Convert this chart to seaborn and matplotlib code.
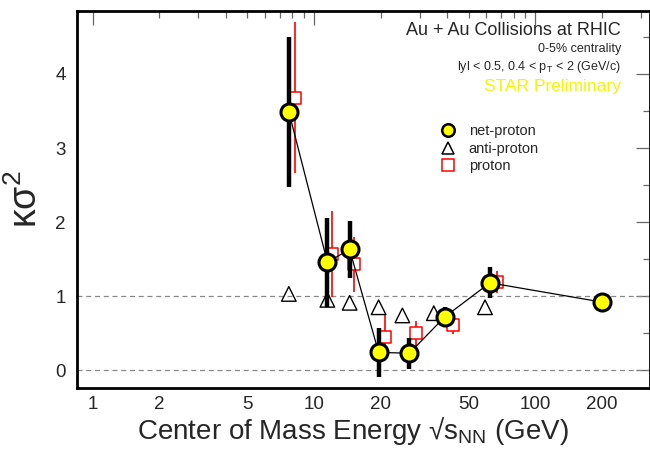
import matplotlib
matplotlib.use("Agg")
import matplotlib.pyplot as plt
from matplotlib.lines import Line2D
from matplotlib.ticker import FixedLocator, NullFormatter, MultipleLocator
import seaborn as sns

# collision energies (GeV) and kappa*sigma^2 values
energy = [7.7, 11.5, 14.5, 19.6, 27, 39, 62.4, 200]
net_kurt = [3.49, 1.46, 1.63, 0.24, 0.23, 0.72, 1.18, 0.92]
net_err = [1.01, 0.60, 0.39, 0.33, 0.21, 0.14, 0.21, 0.03]

# anti-proton / proton points are drawn slightly shifted in energy
anti_energy = [7.7, 11.5, 14.5, 19.6, 25.1, 34.8, 59.3]
anti_kurt = [1.03, 0.95, 0.91, 0.85, 0.74, 0.77, 0.85]

proton_energy = [8.2, 12.1, 15.1, 20.9, 29.0, 42.4, 67.0]
proton_kurt = [3.68, 1.57, 1.43, 0.45, 0.50, 0.61, 1.19]
proton_err = [1.02, 0.58, 0.37, 0.31, 0.17, 0.12, 0.15]

xtick_vals = [1, 2, 5, 10, 20, 50, 100, 200]
xtick_labels = ["1", "2", "5", "10", "20", "50", "100", "200"]

sns.set_style("white")
plt.rcParams['font.family'] = ['Liberation Sans', 'DejaVu Sans']
plt.rcParams['mathtext.default'] = 'regular'

fig = plt.figure(figsize=(6.5, 4.49), dpi=100)
ax = fig.add_axes([77/650, 1 - 388/449, 573/650, 377/449])

# reference lines
for yv in (0, 1):
    ax.axhline(yv, color='#888888', lw=0.9, ls=(0, (4, 3)), zorder=1)

# proton: red open squares with thin red error bars
ax.errorbar(proton_energy, proton_kurt, yerr=proton_err, fmt='none',
            ecolor='red', elinewidth=1.2, capsize=0, zorder=2)
sns.scatterplot(x=proton_energy, y=proton_kurt, marker='s', s=75,
                facecolor='white', edgecolor='red', linewidth=1.1, ax=ax, zorder=3)

# anti-proton: open triangles
sns.scatterplot(x=anti_energy, y=anti_kurt, marker='^', s=110,
                facecolor='none', edgecolor='black', linewidth=1.0, ax=ax, zorder=3)

# net-proton: connecting line, thick error bars, yellow circles
sns.lineplot(x=energy, y=net_kurt, color='black', lw=0.9, ax=ax, zorder=4)
ax.errorbar(energy, net_kurt, yerr=net_err, fmt='none', ecolor='black',
            elinewidth=3.2, capsize=0, zorder=5)
sns.scatterplot(x=energy, y=net_kurt, marker='o', s=150, color='#ffff00',
                edgecolor='black', linewidth=2.2, ax=ax, zorder=6)

ax.set_xscale('log')
ax.set_xlim(0.85, 330)
ax.set_ylim(-0.24, 4.85)

ax.xaxis.set_major_locator(FixedLocator([1, 10, 100]))
ax.xaxis.set_minor_locator(FixedLocator([2, 3, 4, 5, 6, 7, 8, 9, 20, 30, 40, 50,
                                         60, 70, 80, 90, 200, 300]))
ax.xaxis.set_major_formatter(NullFormatter())
ax.xaxis.set_minor_formatter(NullFormatter())
for v, lab in zip(xtick_vals, xtick_labels):
    ax.text(v, -0.044, lab, transform=ax.get_xaxis_transform(), ha='center',
            va='center', fontsize=13.5)

ax.yaxis.set_major_locator(MultipleLocator(1))
ax.yaxis.set_minor_locator(MultipleLocator(0.5))
ax.tick_params(axis='both', which='both', direction='in', top=True, right=True,
               color='#666666', width=0.9)
ax.tick_params(axis='both', which='major', length=10, labelsize=13.5)
ax.tick_params(axis='both', which='minor', length=5)
ax.tick_params(axis='y', pad=8)

for sp in ax.spines.values():
    sp.set_linewidth(2)
    sp.set_color('black')

ax.set_xlabel('Center of Mass Energy √s$_{NN}$ (GeV)', fontsize=20)
ax.xaxis.set_label_coords(0.482, -0.072)
ax.set_ylabel('κσ$^{2}$', fontsize=27)
ax.yaxis.set_label_coords(-0.055, 0.5)

# annotation block
ax.text(0.949, 0.947, 'Au + Au Collisions at RHIC', transform=ax.transAxes,
        ha='right', va='center', fontsize=13)
ax.text(0.949, 0.899, '0-5% centrality', transform=ax.transAxes,
        ha='right', va='center', fontsize=9)
ax.text(0.949, 0.851, 'lyl < 0.5, 0.4 < p$_{T}$ < 2 (GeV/c)', transform=ax.transAxes,
        ha='right', va='center', fontsize=9)
ax.text(0.949, 0.801, 'STAR Preliminary', transform=ax.transAxes,
        ha='right', va='center', fontsize=12.5, color='#f5f500')

handles = [
    Line2D([], [], ls='none', marker='o', ms=9, mfc='#ffff00', mec='black', mew=1.8),
    Line2D([], [], ls='none', marker='^', ms=9, mfc='none', mec='black', mew=1.1),
    Line2D([], [], ls='none', marker='s', ms=8, mfc='none', mec='red', mew=1.1),
]
ax.legend(handles, ['net-proton', 'anti-proton', 'proton'], frameon=False,
          loc='upper left', bbox_to_anchor=(0.61, 0.735), fontsize=10.5,
          handlelength=1.2, handletextpad=0.8, labelspacing=0.25)

fig.savefig('out.png', dpi=100)
